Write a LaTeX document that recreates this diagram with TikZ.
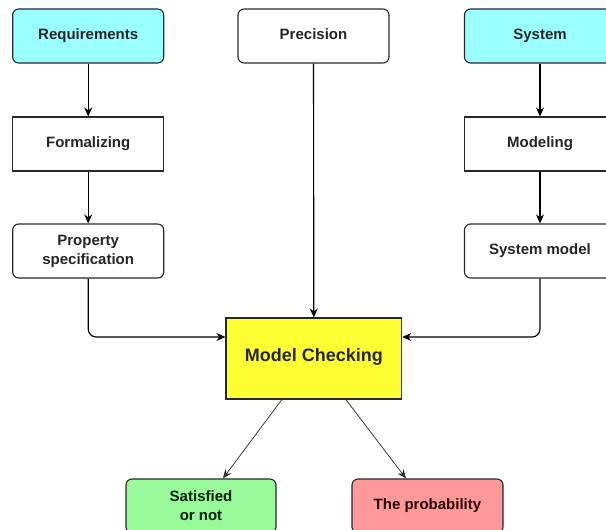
\documentclass[tikz,border=0pt]{standalone}
\usepackage{fontspec}
\setmainfont{Liberation Sans}
\usetikzlibrary{arrows.meta}
\definecolor{cyanbox}{RGB}{153,255,255}
\definecolor{yellowbox}{RGB}{255,255,51}
\definecolor{greenbox}{RGB}{153,250,153}
\definecolor{redbox}{RGB}{255,153,153}
\definecolor{edge}{RGB}{40,40,40}
\begin{document}
\begin{tikzpicture}[x=1pt,y=-1pt,
  box/.style={draw=edge, line width=1.1pt, minimum width=151pt, minimum height=54pt,
    align=center, font=\fontsize{15}{19}\selectfont\bfseries, text=black!85, inner sep=2pt},
  rbox/.style={box, rounded corners=6pt},
  oneline/.style={text height=11pt, text depth=5pt},
  arr/.style={draw=black, line width=1.15pt, -{Stealth[length=9pt,width=8pt]}},
  thinarr/.style={draw=black!80, line width=0.75pt, -{Stealth[length=9pt,width=7.5pt]}}]
\clip (0,0) rectangle (606,530);
\fill[white] (0,0) rectangle (606,530);
\node[rbox, oneline, fill=cyanbox] (req) at (88.2,36) {Requirements};
\node[rbox, oneline, fill=white] (prec) at (313.5,36) {Precision};
\node[rbox, oneline, fill=cyanbox] (sys) at (540,36) {System};
\node[box, oneline, fill=white] (form) at (88.2,144) {Formalizing};
\node[box, oneline, fill=white] (modl) at (540,144) {Modeling};
\node[rbox, fill=white] (prop) at (88.2,251) {Property\\specification};
\node[rbox, oneline, fill=white] (sysm) at (540,251) {System model};
\node[box, fill=yellowbox, minimum width=175.7pt, minimum height=81pt,
  text height=13pt, text depth=7pt,
  font=\fontsize{18}{22}\selectfont\bfseries] (mc) at (313.85,358.5) {Model Checking};
\node[rbox, fill=greenbox, minimum width=150pt, text=black!80!green!60!black] (sat) at (201,506) {Satisfied\\or not};
\node[rbox, oneline, fill=redbox, text=black!85!red] (prob) at (427.5,506) {The probability};
\draw[arr] (req) -- (form);
\draw[arr] (form) -- (prop);
\draw[arr] (sys) -- (modl);
\draw[arr] (modl) -- (sysm);
\draw[arr] (prec) -- (mc);
\draw[arr, rounded corners=8pt] (prop.south) |- ([yshift=21.5pt]mc.west);
\draw[arr, rounded corners=8pt] (sysm.south) |- ([yshift=21.5pt]mc.east);
\draw[thinarr] ([xshift=-32pt]mc.south) -- ([xshift=22pt]sat.north);
\draw[thinarr] ([xshift=32pt]mc.south) -- ([xshift=-21.5pt]prob.north);
\end{tikzpicture}
\end{document}
